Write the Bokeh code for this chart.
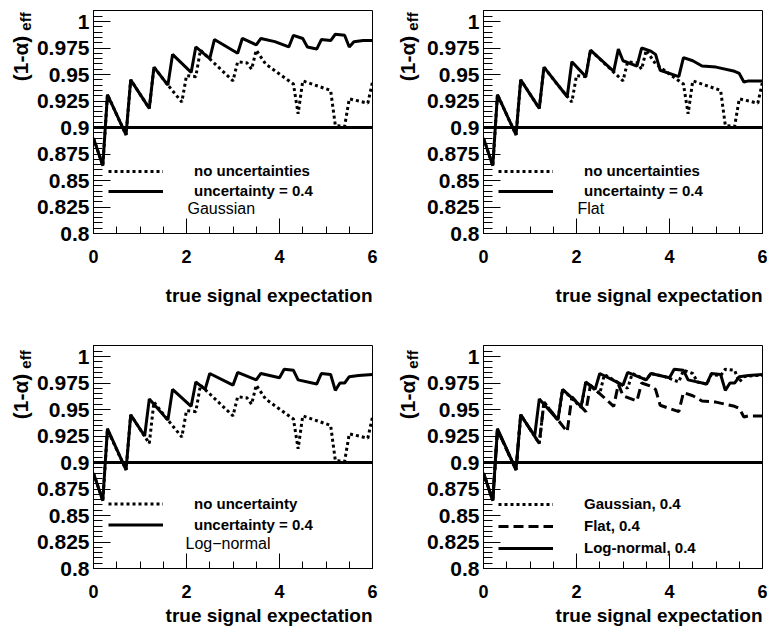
import math
from bokeh.plotting import figure
from bokeh.layouts import column, row
from bokeh.models import Range1d, FixedTicker, Span, Label, Legend, LegendItem
from bokeh.embed import file_html
from bokeh.resources import INLINE

# ---------------- data ----------------
# no uncertainties (classical coverage)
x_nounc = [0.0, 0.2, 0.3, 0.7, 0.8, 1.2, 1.3, 1.6, 1.9, 2.0, 2.2, 2.3, 3.0, 3.1, 3.3,
           3.4, 3.5, 3.7, 4.3, 4.4, 4.5, 5.1, 5.2, 5.4, 5.5, 5.9, 6.0]
y_nounc = [0.890, 0.864, 0.931, 0.893, 0.945, 0.918, 0.957, 0.940, 0.924, 0.949, 0.948,
           0.973, 0.944, 0.962, 0.961, 0.955, 0.973, 0.960, 0.941, 0.913, 0.944, 0.935,
           0.902, 0.901, 0.927, 0.923, 0.943]

# Gaussian uncertainty = 0.4
x_gauss = [0.0, 0.2, 0.3, 0.7, 0.8, 1.2, 1.3, 1.6, 1.7, 2.1, 2.2, 2.5, 2.6, 3.1, 3.2,
           3.5, 3.6, 3.9, 4.2, 4.3, 4.5, 4.6, 4.8, 4.9, 5.1, 5.2, 5.4, 5.5, 5.6, 5.8, 6.0]
y_gauss = [0.890, 0.864, 0.931, 0.893, 0.945, 0.918, 0.957, 0.940, 0.969, 0.952, 0.976,
           0.965, 0.983, 0.970, 0.984, 0.978, 0.984, 0.981, 0.976, 0.987, 0.984, 0.976,
           0.974, 0.983, 0.982, 0.988, 0.987, 0.976, 0.981, 0.982, 0.982]

# Flat uncertainty = 0.4
x_flat = [0.0, 0.2, 0.3, 0.7, 0.8, 1.2, 1.3, 1.8, 1.9, 2.2, 2.3, 2.8, 2.9, 3.0, 3.3,
          3.4, 3.6, 3.7, 3.8, 4.2, 4.3, 4.5, 4.7, 5.0, 5.4, 5.5, 5.6, 5.7, 6.0]
y_flat = [0.890, 0.864, 0.931, 0.893, 0.945, 0.918, 0.957, 0.929, 0.962, 0.948, 0.973,
          0.953, 0.974, 0.963, 0.958, 0.975, 0.972, 0.969, 0.954, 0.948, 0.966, 0.963,
          0.958, 0.957, 0.953, 0.951, 0.943, 0.944, 0.944]

# Log-normal uncertainty = 0.4
x_logn = [0.0, 0.2, 0.3, 0.7, 0.8, 1.1, 1.2, 1.6, 1.7, 2.1, 2.2, 2.4, 2.5, 3.0, 3.1,
          3.5, 3.6, 4.0, 4.1, 4.3, 4.4, 4.8, 4.9, 5.1, 5.2, 5.3, 5.4, 5.5, 5.7, 6.0]
y_logn = [0.890, 0.864, 0.932, 0.893, 0.945, 0.925, 0.960, 0.940, 0.969, 0.953, 0.976,
          0.969, 0.984, 0.973, 0.985, 0.978, 0.984, 0.980, 0.988, 0.987, 0.978, 0.974,
          0.984, 0.983, 0.968, 0.975, 0.975, 0.981, 0.982, 0.983]

nominal = 0.9

x_ticks = [0, 2, 4, 6]
x_minor = [0.5, 1.0, 1.5, 2.5, 3.0, 3.5, 4.5, 5.0, 5.5]
y_ticks = [0.8, 0.825, 0.85, 0.875, 0.9, 0.925, 0.95, 0.975, 1.0]
y_tick_labels = ["0.8", "0.825", "0.85", "0.875", "0.9", "0.925", "0.95", "0.975", "1"]
y_minor = [round(0.8 + 0.005 * k, 3) for k in range(43)]

xtitle = "true signal expectation"
ytitle_main = "(1-\u03b1)"
ytitle_sub = "eff"

FONT = "Liberation Sans"


def blank(width, height):
    f = figure(width=width, height=height, x_range=Range1d(0, 1), y_range=Range1d(0, 1),
               x_axis_type=None, y_axis_type=None, output_backend="svg",
               toolbar_location=None, min_border_left=0, min_border_right=0,
               min_border_top=0, min_border_bottom=0)
    f.grid.visible = False
    f.outline_line_color = None
    f.background_fill_color = "white"
    f.border_fill_color = "white"
    return f


def ylabel_fig(width, height, main_xy, sub_xy):
    # the frame of this strip is aligned with the neighbouring panel's frame
    f = blank(width, height)
    f.add_layout(Label(x=main_xy[0], y=main_xy[1], x_units="screen", y_units="screen",
                       text=ytitle_main, angle=math.pi / 2, text_align="center",
                       text_baseline="middle", text_font=FONT,
                       text_font_style="bold", text_font_size="21px",
                       text_color="black"))
    f.add_layout(Label(x=sub_xy[0], y=sub_xy[1], x_units="screen", y_units="screen",
                       text=ytitle_sub, angle=math.pi / 2, text_align="center",
                       text_baseline="middle", text_font=FONT,
                       text_font_style="bold", text_font_size="15px",
                       text_color="black"))
    return f


def xtitle_fig(width, height, rights, y_mid):
    f = blank(width, height)
    for xr in rights:
        f.add_layout(Label(x=xr, y=y_mid, x_units="screen", y_units="screen",
                           text=xtitle, text_align="right", text_baseline="middle",
                           text_font=FONT, text_font_style="bold",
                           text_font_size="19px", text_color="black"))
    return f


def make_panel(width, height, bl, br, bt, bb):
    p = figure(width=width, height=height, x_range=Range1d(0, 6),
               y_range=Range1d(0.8, 1.0104), output_backend="svg",
               toolbar_location=None, min_border_left=bl, min_border_right=br,
               min_border_top=bt, min_border_bottom=bb)
    p.grid.visible = False
    p.outline_line_color = "black"
    p.outline_line_width = 1
    p.outline_line_alpha = 1
    p.background_fill_color = "white"
    p.border_fill_color = "white"

    xa = p.xaxis[0]
    xa.ticker = FixedTicker(ticks=x_ticks, minor_ticks=x_minor)
    xa.major_tick_in = 15
    xa.major_tick_out = 0
    xa.minor_tick_in = 7
    xa.minor_tick_out = 0
    xa.major_tick_line_color = "black"
    xa.minor_tick_line_color = "black"
    xa.axis_line_color = "black"
    xa.major_label_standoff = 16
    xa.major_label_text_font = FONT
    xa.major_label_text_font_style = "bold"
    xa.major_label_text_font_size = "18px"
    xa.major_label_text_color = "black"

    ya = p.yaxis[0]
    ya.ticker = FixedTicker(ticks=y_ticks, minor_ticks=y_minor)
    ya.major_label_overrides = dict(zip(y_ticks, y_tick_labels))
    ya.major_tick_in = 17
    ya.major_tick_out = 0
    ya.minor_tick_in = 9
    ya.minor_tick_out = 0
    ya.major_tick_line_color = "black"
    ya.minor_tick_line_color = "black"
    ya.axis_line_color = "black"
    ya.major_label_standoff = 4
    ya.major_label_text_font = FONT
    ya.major_label_text_font_style = "bold"
    ya.major_label_text_font_size = "21px"
    ya.major_label_text_color = "black"

    p.add_layout(Span(location=nominal, dimension="width", line_color="black",
                      line_width=3))
    return p


def add_legend(p, items, vy, row_h):
    leg = Legend(items=[LegendItem(label=lab, renderers=[r]) for lab, r in items],
                 location=(15, vy), orientation="vertical", glyph_width=55,
                 glyph_height=row_h, label_height=row_h, label_standoff=31,
                 spacing=0, padding=0, margin=0, background_fill_alpha=0,
                 border_line_alpha=0, label_text_font=FONT,
                 label_text_font_style="bold", label_text_font_size="15px",
                 label_text_color="black")
    p.add_layout(leg)


def add_note(p, text, dx, dy):
    p.add_layout(Label(x=dx, y=dy, x_units="screen", y_units="screen", text=text,
                       text_align="left", text_baseline="middle", text_font=FONT,
                       text_font_size="16px", text_color="black"))


# ---- row A ----
lab1 = ylabel_fig(33, 280, (19.5, 175), (24.5, 212))
# top-left: Gaussian
p1 = make_panel(355, 280, 60, 16, 10, 47)
r_a = p1.line(x_nounc, y_nounc, line_color="black", line_width=3, line_dash="3 3")
r_b = p1.line(x_gauss, y_gauss, line_color="black", line_width=3)
add_legend(p1, [("no uncertainties", r_a), ("uncertainty = 0.4", r_b)], 32.5, 20)
add_note(p1, "Gaussian", 94, 25.5)

lab2 = ylabel_fig(32, 280, (19, 175), (24, 212))
# top-right: Flat
p2 = make_panel(347, 280, 63, 5, 10, 47)
r_a = p2.line(x_nounc, y_nounc, line_color="black", line_width=3, line_dash="3 3")
r_b = p2.line(x_flat, y_flat, line_color="black", line_width=3)
add_legend(p2, [("no uncertainties", r_a), ("uncertainty = 0.4", r_b)], 32.5, 20)
add_note(p2, "Flat", 94, 25.5)

stripA = xtitle_fig(767, 30, [372, 762], 15)

# ---- row B ----
lab3 = ylabel_fig(33, 295, (19.5, 172), (24.5, 209))
# bottom-left: Log-normal
p3 = make_panel(355, 295, 60, 16, 35, 37)
r_a = p3.line(x_nounc, y_nounc, line_color="black", line_width=3, line_dash="3 3")
r_b = p3.line(x_logn, y_logn, line_color="black", line_width=3)
add_legend(p3, [("no uncertainty", r_a), ("uncertainty = 0.4", r_b)], 33, 21)
add_note(p3, "Log\u2212normal", 92, 25.3)

lab4 = ylabel_fig(32, 295, (19, 172), (24, 209))
# bottom-right: comparison
p4 = make_panel(347, 295, 63, 5, 35, 37)
r_g = p4.line(x_gauss, y_gauss, line_color="black", line_width=3, line_dash="3 3")
r_f = p4.line(x_flat, y_flat, line_color="black", line_width=3, line_dash="10 5")
r_l = p4.line(x_logn, y_logn, line_color="black", line_width=3)
add_legend(p4, [("Gaussian, 0.4", r_g), ("Flat, 0.4", r_f), ("Log-normal, 0.4", r_l)],
           9.3, 22)

stripB = xtitle_fig(767, 30, [372, 762], 20)

layout = column(row(lab1, p1, lab2, p2), stripA, row(lab3, p3, lab4, p4), stripB)
open("out.html", "w").write(file_html(layout, INLINE))
